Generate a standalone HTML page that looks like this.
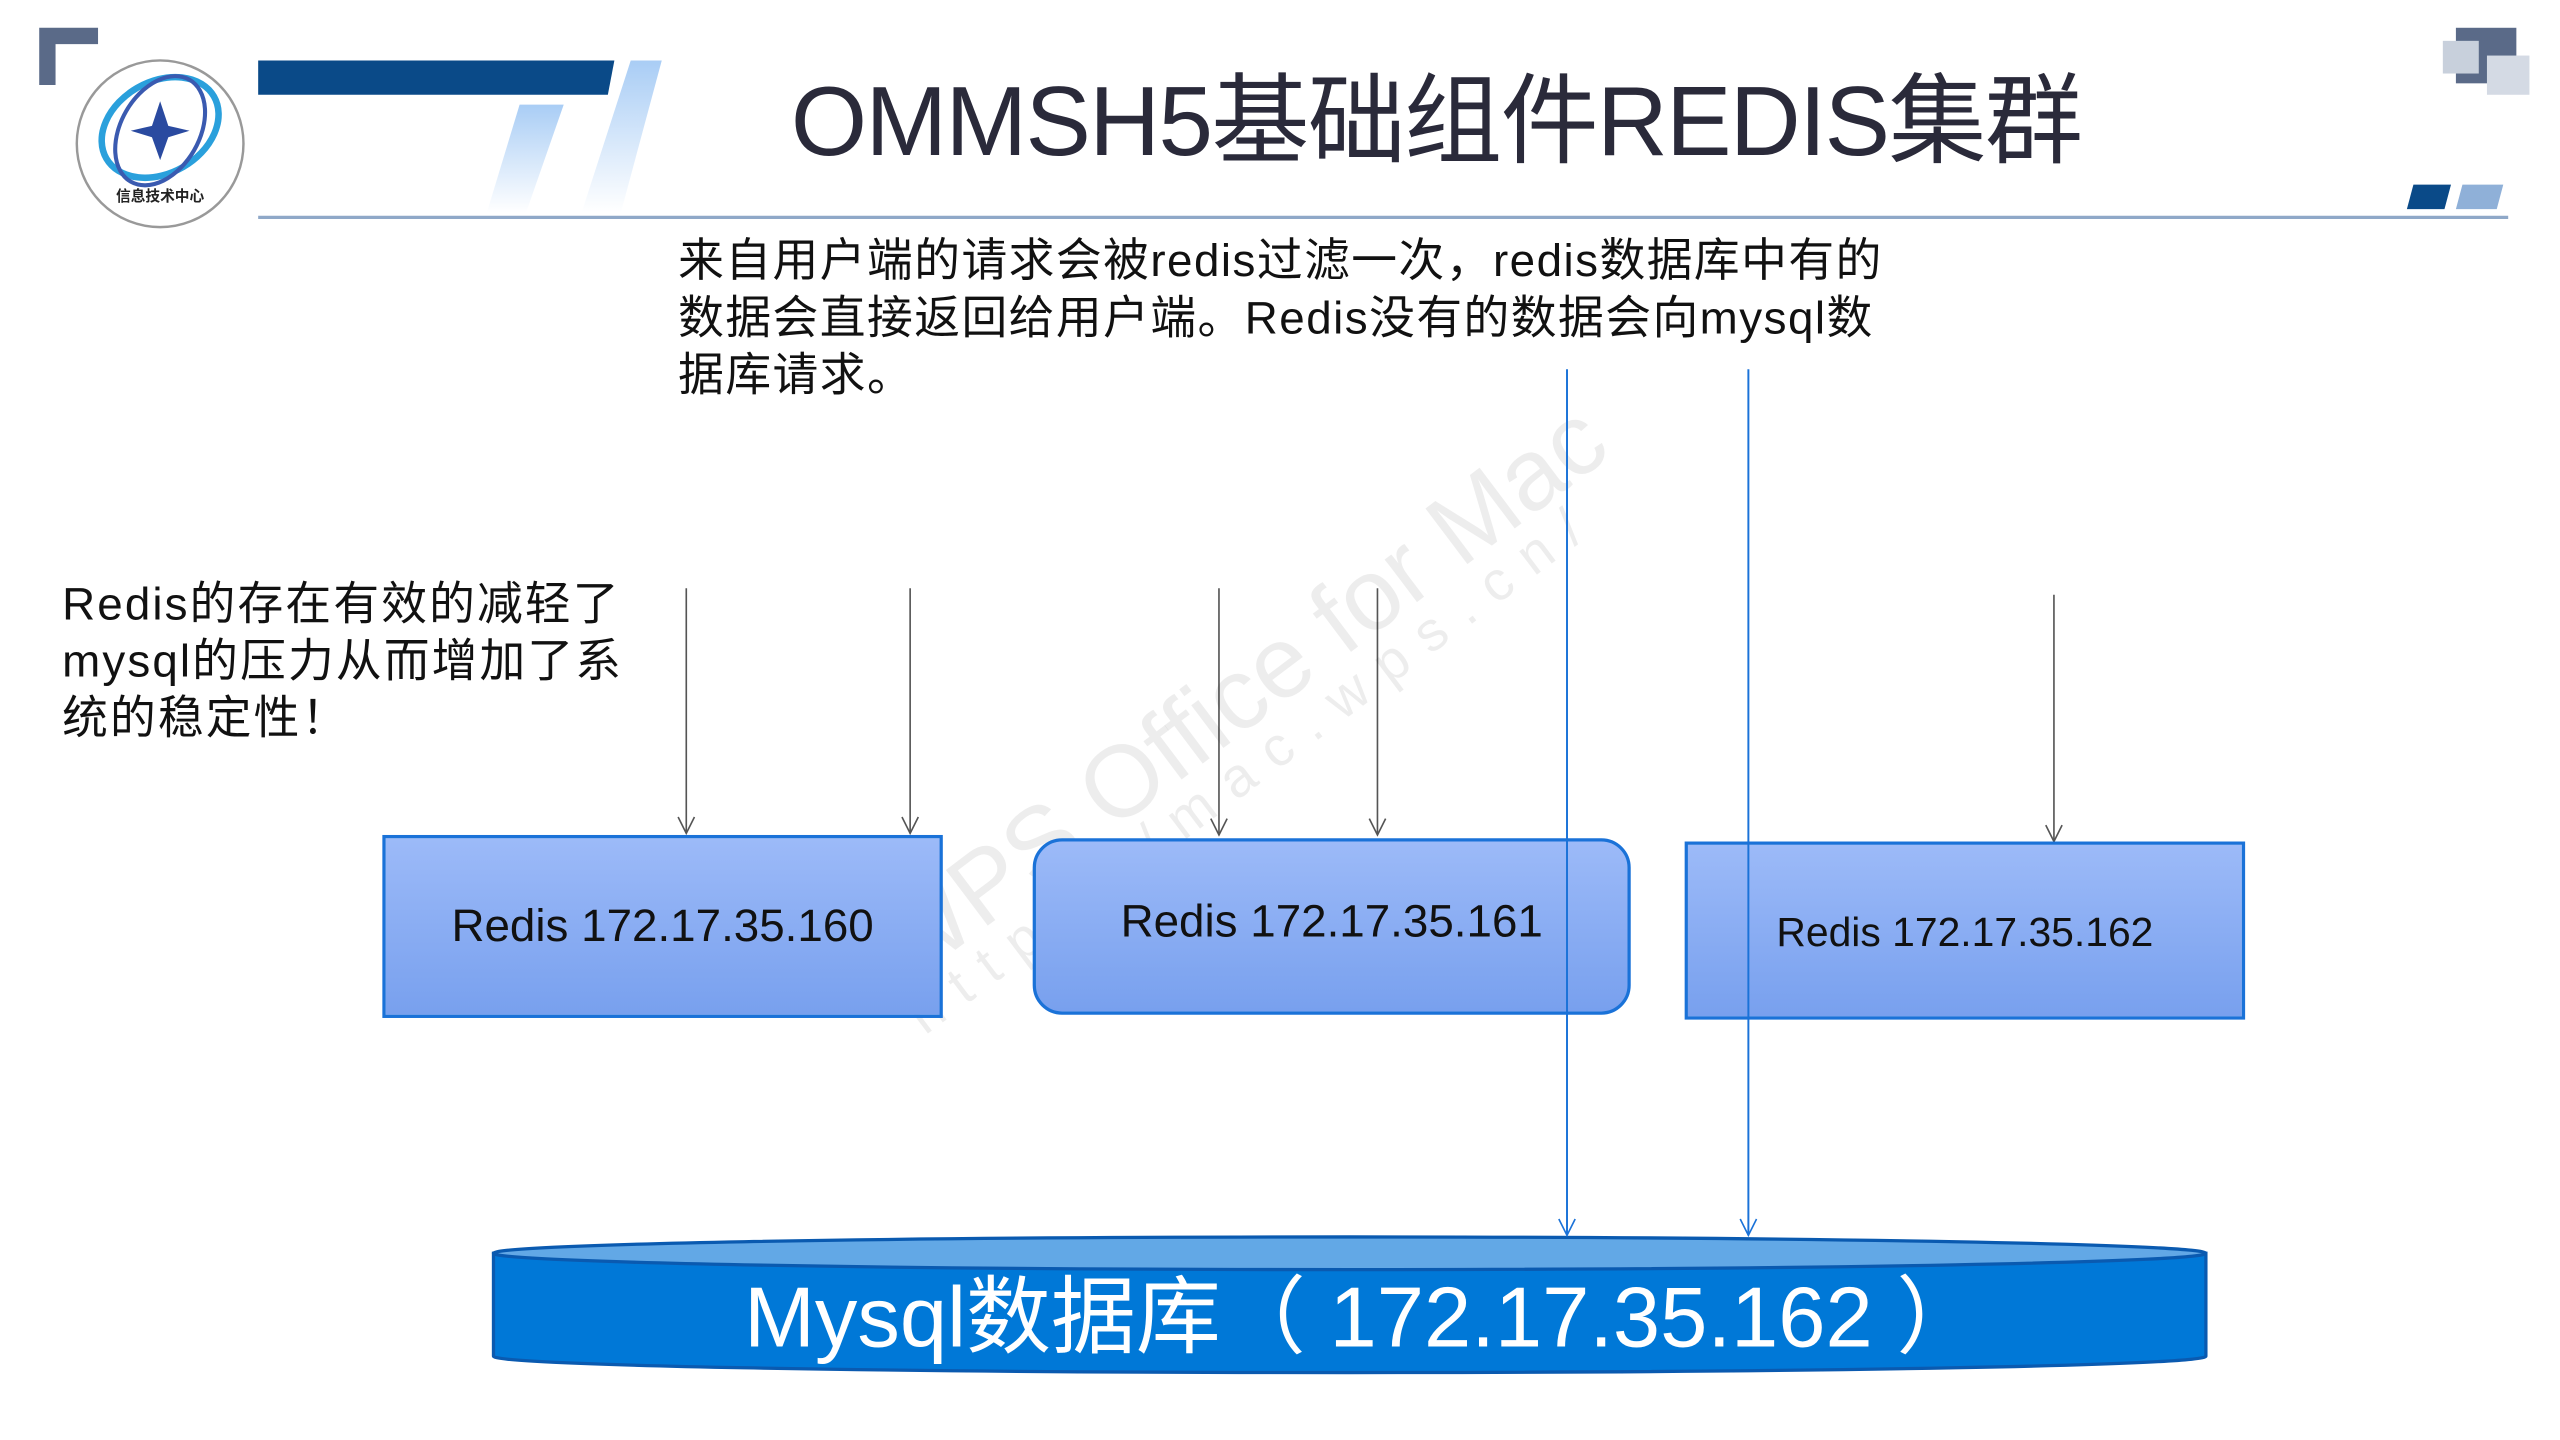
<!DOCTYPE html>
<html><head><meta charset="utf-8"><style>
html,body{margin:0;padding:0;background:#fff;overflow:hidden}
body{width:2560px;height:1440px}
#s{position:absolute;left:0;top:0;width:1566px;height:881px;transform:scale(1.634);transform-origin:0 0;font-family:"Liberation Sans","Noto Sans CJK SC",sans-serif}
.a{position:absolute}
.t{position:absolute;white-space:nowrap;color:#111}
.box{position:absolute;border:2px solid #1a72d8;background:linear-gradient(#9cbaf8,#78a0ee);box-sizing:border-box;display:flex;align-items:center;justify-content:center;color:#111}
</style></head><body><div id="s">
<svg class="a" style="left:0;top:0" width="1566" height="881">
<defs><linearGradient id="lg" x1="0" y1="0" x2="0" y2="1"><stop offset="0" stop-color="#a9cdf5"/><stop offset="1" stop-color="#fff"/></linearGradient>
<marker id="ag" markerWidth="12" markerHeight="12" refX="11" refY="6" orient="auto" markerUnits="userSpaceOnUse"><path d="M1,1 L11,6 L1,11" fill="none" stroke="#555" stroke-width="1"/></marker>
<marker id="ab" markerWidth="12" markerHeight="12" refX="11" refY="6" orient="auto" markerUnits="userSpaceOnUse"><path d="M1,1 L11,6 L1,11" fill="none" stroke="#1a72d8" stroke-width="1"/></marker></defs>
<path d="M24,17 H60 V27 H34 V52 H24 Z" fill="#5a6a88"/>
<circle cx="98" cy="88" r="51" fill="#fff" stroke="#999" stroke-width="1.5"/>
<ellipse cx="98" cy="78" rx="38" ry="28" fill="none" stroke="#2aa0dc" stroke-width="4" transform="rotate(-30 98 78)"/>
<ellipse cx="98" cy="80" rx="24" ry="36" fill="none" stroke="#3a5ab0" stroke-width="2.5" transform="rotate(30 98 80)"/>
<path d="M98,62 L103,77 L116,80 L103,84 L98,98 L93,84 L80,80 L93,77 Z" fill="#2a4aa0"/>
<text x="98" y="123" font-size="9" text-anchor="middle" fill="#222" font-family="Noto Sans CJK SC,sans-serif" font-weight="bold">信息技术中心</text>
<path d="M158,37 H376 L372,58 H158 Z" fill="#0a4a88"/>
<path d="M386,37 H405 L380,130 H356 Z" fill="url(#lg)"/>
<path d="M318,64 H345 L322,130 H298 Z" fill="url(#lg)"/>
<rect x="1503" y="17" width="37" height="34" fill="#5a6a88"/>
<rect x="1495" y="25" width="22" height="20" fill="#c8d0dc"/>
<rect x="1522" y="34" width="26" height="24" fill="#d4dae4"/>
<path d="M1477,113 H1500 L1496,128 H1473 Z" fill="#0a4a88"/>
<path d="M1507,113 H1532 L1528,128 H1503 Z" fill="#8fb0d8"/>
<line x1="158" y1="133" x2="1535" y2="133" stroke="#8fa8c8" stroke-width="2"/>
<g stroke="#555" stroke-width="1" marker-end="url(#ag)">
<line x1="420" y1="360" x2="420" y2="510"/><line x1="557" y1="360" x2="557" y2="510"/>
<line x1="746" y1="360" x2="746" y2="511"/><line x1="843" y1="360" x2="843" y2="511"/>
<line x1="1257" y1="364" x2="1257" y2="515"/></g>
</svg>
<div class="t" style="left:484px;top:26px;font-size:60px;color:#2a2a3a;letter-spacing:-1px">OMMSH5基础组件REDIS集群</div>
<div class="t" style="left:415px;top:142px;font-size:28px;line-height:35px;letter-spacing:0.9px">来自用户端的请求会被redis过滤一次，redis数据库中有的<br>数据会直接返回给用户端。Redis没有的数据会向mysql数<br>据库请求。</div>
<div class="t" style="left:38px;top:352px;font-size:28px;line-height:35px;letter-spacing:1.3px">Redis的存在有效的减轻了<br>mysql的压力从而增加了系<br>统的稳定性！</div>
<div class="t" style="left:520px;top:560px;font-size:62px;color:rgba(0,0,0,0.07);transform:rotate(-37deg);transform-origin:0 0">WPS Office for Mac</div>
<div class="t" style="left:548px;top:610px;font-size:34px;letter-spacing:12px;color:rgba(0,0,0,0.07);transform:rotate(-37deg);transform-origin:0 0">https://mac.wps.cn/</div>
<div class="box" style="left:234px;top:511px;width:343px;height:112px;font-size:28px">Redis 172.17.35.160</div>
<div class="box" style="left:632px;top:513px;width:366px;height:108px;border-radius:18px;font-size:28px;padding-bottom:6px">Redis 172.17.35.161</div>
<div class="box" style="left:1031px;top:515px;width:343px;height:109px;font-size:25px;padding-top:4px">Redis 172.17.35.162</div>
<svg class="a" style="left:0;top:0" width="1566" height="881">
<path d="M302,767 V830 A524,10 0 0 0 1350,830 V767 Z" fill="#0078d7" stroke="#0a5ab0" stroke-width="2"/>
<ellipse cx="826" cy="767" rx="524" ry="10" fill="#62a8e6" stroke="#0a5ab0" stroke-width="2"/>
<g stroke="#1a72d8" stroke-width="1.2" marker-end="url(#ab)">
<line x1="959" y1="226" x2="959" y2="756"/><line x1="1070" y1="226" x2="1070" y2="756"/></g>
</svg>
<div class="t" style="left:310px;width:1048px;top:764px;text-align:center;font-size:52px;color:#fff">Mysql数据库（ 172.17.35.162 ）</div>
</div></body></html>
